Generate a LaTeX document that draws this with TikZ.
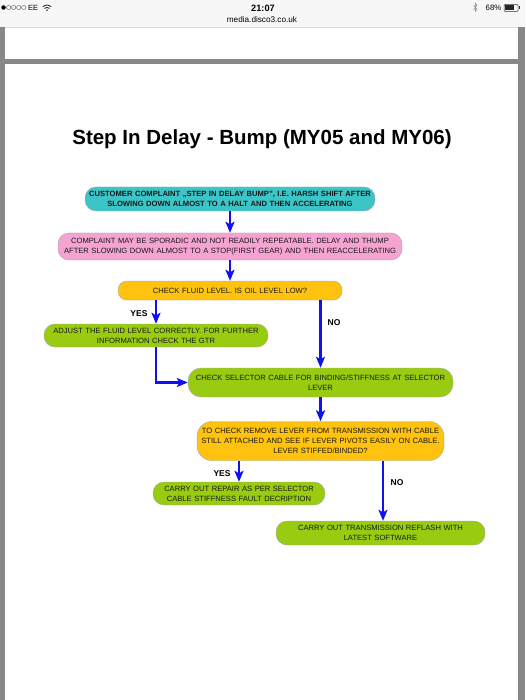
\documentclass[tikz,border=0pt]{standalone}
\usepackage{fontspec}
\setmainfont{Liberation Sans}
\newfontfamily\symfont{DejaVu Sans}
\usetikzlibrary{arrows.meta}
\definecolor{boxcyan}{HTML}{3CC5C7}
\definecolor{boxpink}{HTML}{F5A3D2}
\definecolor{boxorange}{HTML}{FFC20E}
\definecolor{boxgreen}{HTML}{99CC11}
\definecolor{arrowblue}{HTML}{1010F0}
\definecolor{framegray}{HTML}{888888}
\definecolor{barbg}{HTML}{F7F7F7}

\begin{document}
\begin{tikzpicture}[x=1pt,y=-1pt,
	every node/.style={font=\fontsize{7.6}{10}\selectfont, inner sep=0pt},
	box/.style={draw=black!35, line width=0.4pt, rounded corners=11pt, align=center, text=black!90},
	link/.style={draw=arrowblue, line width=2.2pt, -{Stealth[length=11pt,width=9pt,inset=2.5pt]}},
	lbl/.style={font=\fontsize{8.5}{9}\selectfont\bfseries}]
	\useasboundingbox (0,0) rectangle (525,700);
	% screen frame
	\fill[barbg] (0,0) rectangle (525,27);
	\draw[black!15] (0,27) -- (525,27);
	\fill[framegray] (0,27) rectangle (5,700);
	\fill[framegray] (518,27) rectangle (525,700);
	\fill[framegray] (5,59) rectangle (518,64);
	% status bar
	\node[anchor=west, font=\symfont\fontsize{5.8}{6}\selectfont] (signal) at (1,8) {●○○○○};
	\node[anchor=west, font=\fontsize{7.5}{8}\selectfont] (carrier) at (signal.east) {\,EE};
	\draw[black!80, line width=0.9pt] (47,11) ++(-45:1.3) arc (-45:-135:1.3)
		(47,11) ++(-45:3.6) arc (-45:-135:3.6) (47,11) ++(-45:5.9) arc (-45:-135:5.9);
	\node[font=\fontsize{9.2}{10}\selectfont\bfseries] (clock) at (263,8) {21:07};
	\node[font=\fontsize{8.2}{9}\selectfont] (url) at (262,20) {media.disco3.co.uk};
	\draw[black!45, line width=0.5pt] (473.5,5) -- (477,9.5) -- (475.3,11.5) -- (475.3,3) -- (477,5) -- (473.5,10);
	\node[anchor=east, font=\fontsize{7.8}{8}\selectfont] (battery) at (501.5,8) {68\%};
	\draw[black!80, line width=0.5pt, rounded corners=1pt] (504,4.5) rectangle (518,11.5);
	\fill[black!85] (505,5.5) rectangle (514,10.5);
	\fill[black!80] (518.5,6.5) rectangle (519.5,9.5);
	% title
	\node[font=\fontsize{20.5}{22}\selectfont\bfseries] (title) at (262,139) {Step In Delay - Bump (MY05 and MY06)};
	% flow chart
	\node[box, fill=boxcyan, minimum width=290pt, minimum height=24pt, text width=288pt,
		font=\fontsize{7.6}{10}\selectfont\bfseries] (complaint) at (230,199)
		{CUSTOMER COMPLAINT „STEP IN DELAY BUMP", I.E. HARSH SHIFT AFTER\\SLOWING DOWN ALMOST TO A HALT AND THEN ACCELERATING};
	\node[box, fill=boxpink, minimum width=344pt, minimum height=27pt, text width=342pt] (sporadic) at (230,246.5)
		{COMPLAINT MAY BE SPORADIC AND NOT READILY REPEATABLE. DELAY AND THUMP\\AFTER SLOWING DOWN ALMOST TO A STOP(FIRST GEAR) AND THEN REACCELERATING};
	\node[box, fill=boxorange, minimum width=224pt, minimum height=19pt, text width=220pt, rounded corners=9pt] (fluid) at (230,290.5)
		{CHECK FLUID LEVEL. IS OIL LEVEL LOW?};
	\node[box, fill=boxgreen, minimum width=224pt, minimum height=23pt, text width=220pt] (adjust) at (156,335.5)
		{ADJUST THE FLUID LEVEL CORRECTLY. FOR FURTHER\\INFORMATION CHECK THE GTR};
	\node[box, fill=boxgreen, minimum width=265pt, minimum height=29pt, text width=260pt, rounded corners=13pt] (selector) at (320.5,382.5)
		{CHECK SELECTOR CABLE FOR BINDING/STIFFNESS AT SELECTOR\\LEVER};
	\node[box, fill=boxorange, minimum width=247pt, minimum height=39pt, text width=245pt, rounded corners=15pt] (lever) at (320.5,441)
		{TO CHECK REMOVE LEVER FROM TRANSMISSION WITH CABLE\\STILL ATTACHED AND SEE IF LEVER PIVOTS EASILY ON CABLE.\\LEVER STIFFED/BINDED?};
	\node[box, fill=boxgreen, minimum width=172pt, minimum height=23pt, text width=168pt] (repair) at (239,493.5)
		{CARRY OUT REPAIR AS PER SELECTOR\\CABLE STIFFNESS FAULT DECRIPTION};
	\node[box, fill=boxgreen, minimum width=209pt, minimum height=24pt, text width=205pt] (reflash) at (380.5,533)
		{CARRY OUT TRANSMISSION REFLASH WITH\\LATEST SOFTWARE};
	% connectors
	\draw[link] (complaint) -- (sporadic);
	\draw[link] (sporadic) -- (fluid);
	\draw[link] (fluid.south -| adjust.north) -- (adjust.north);
	\draw[link] (fluid.south -| selector.north) -- (selector.north);
	\draw[link] (adjust.south) |- (selector.west);
	\draw[link] (selector) -- (lever);
	\draw[link] (lever.south -| repair.north) -- (repair.north);
	\draw[link] ([xshift=2.5pt]lever.south -| reflash.north) -- ([xshift=2.5pt]reflash.north);
	\node[lbl] (yesfluid) at (139,314) {YES};
	\node[lbl] (nofluid) at (334,323) {NO};
	\node[lbl] (yeslever) at (222,473.5) {YES};
	\node[lbl] (nolever) at (397,483) {NO};
\end{tikzpicture}
\end{document}
